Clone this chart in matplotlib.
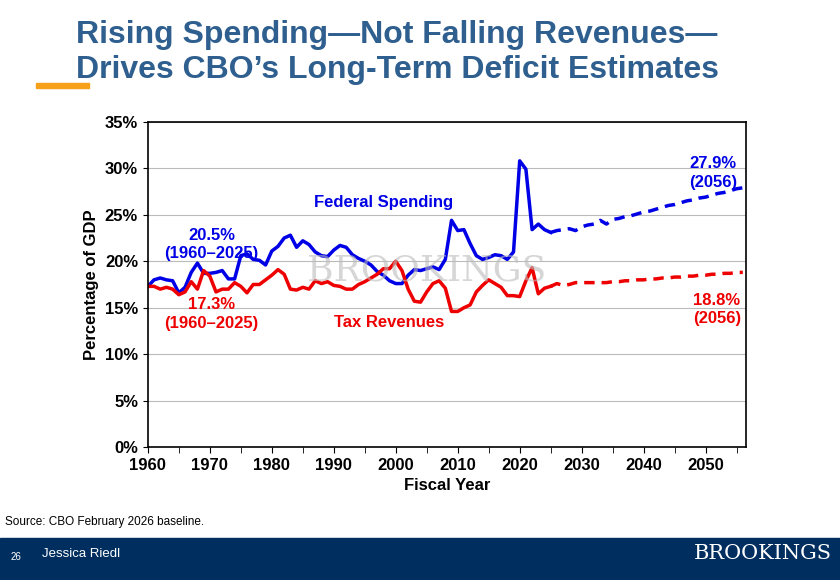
import matplotlib
matplotlib.use("Agg")
import matplotlib.pyplot as plt
from matplotlib.patches import Rectangle
import numpy as np

plt.rcParams['font.family'] = ['Liberation Sans', 'DejaVu Sans']

hist_years = list(range(1960, 2026))
spending = [17.3,18.0,18.2,18.0,17.9,16.6,17.2,18.8,19.8,18.7,18.7,18.8,19.0,18.1,18.1,20.6,20.8,20.2,20.1,19.6,
            21.1,21.6,22.5,22.8,21.5,22.2,21.8,21.0,20.6,20.5,21.2,21.7,21.5,20.7,20.3,20.0,19.6,18.9,18.5,17.9,
            17.6,17.6,18.5,19.1,19.0,19.2,19.4,19.1,20.2,24.4,23.3,23.4,21.9,20.6,20.2,20.4,20.7,20.6,20.2,21.0,
            30.8,29.9,23.4,24.0,23.4,23.1]
revenues = [17.3,17.3,17.0,17.2,17.0,16.4,16.7,17.8,17.0,19.0,18.4,16.7,17.0,17.0,17.7,17.3,16.6,17.5,17.5,18.0,
            18.5,19.1,18.6,17.0,16.9,17.2,17.0,17.9,17.6,17.8,17.4,17.3,17.0,17.0,17.5,17.8,18.2,18.6,19.2,19.2,
            20.0,19.0,17.0,15.7,15.6,16.7,17.6,17.9,17.1,14.6,14.6,15.0,15.3,16.7,17.4,18.0,17.6,17.2,16.3,16.3,
            16.2,17.9,19.3,16.5,17.1,17.3]
proj_years = list(range(2025, 2057))
proj_spending = [23.1,23.3,23.4,23.5,23.3,23.7,23.9,24.0,24.4,24.0,24.5,24.6,24.8,24.9,25.1,25.3,25.4,25.6,25.8,
                 26.0,26.1,26.3,26.5,26.6,26.8,26.9,27.1,27.3,27.4,27.6,27.8,27.9]
proj_revenues = [17.3,17.6,17.4,17.5,17.7,17.7,17.7,17.7,17.7,17.7,17.8,17.8,17.9,17.9,18.0,18.0,18.1,18.1,18.2,
                 18.2,18.3,18.3,18.4,18.4,18.5,18.5,18.6,18.6,18.7,18.7,18.8,18.8]

BLUE = "#0000E6"
RED = "#EE0000"
fig = plt.figure(figsize=(8.4, 5.8), dpi=100)
fig.patch.set_facecolor("white")

fig.text(0.09, 0.965, "Rising Spending\u2014Not Falling Revenues\u2014", fontsize=23, fontweight="bold",
         color="#2E5F8F", va="top")
fig.text(0.09, 0.905, "Drives CBO\u2019s Long-Term Deficit Estimates", fontsize=23, fontweight="bold",
         color="#2E5F8F", va="top")
fig.add_artist(Rectangle((0.043, 0.848), 0.063, 0.009, transform=fig.transFigure, color="#F7A11A"))

ax = fig.add_axes([0.176, 0.229, 0.712, 0.561])
ax.plot(hist_years, spending, color=BLUE, lw=2.5)
ax.plot(hist_years, revenues, color=RED, lw=2.5)
ax.plot(proj_years, proj_spending, color=BLUE, lw=2.5, ls=(0, (3, 2)))
ax.plot(proj_years, proj_revenues, color=RED, lw=2.5, ls=(0, (3, 2)))
ax.set_xlim(1960, 2056.5)
ax.set_ylim(0, 35)
ax.set_xticks(range(1960, 2051, 10))
ax.set_xticks(range(1960, 2057, 5), minor=True)
ax.set_yticks(range(0, 36, 5))
ax.set_yticklabels([f"{v}%" for v in range(0, 36, 5)])
ax.grid(axis="y", color="#BBBBBB", lw=0.8)
ax.set_axisbelow(True)
ax.tick_params(labelsize=12)
for lab in ax.get_xticklabels() + ax.get_yticklabels():
    lab.set_fontweight("bold")
ax.tick_params(axis="x", which="both", direction="out", length=4)
ax.set_xlabel("Fiscal Year", fontsize=12, fontweight="bold")
ax.set_ylabel("Percentage of GDP", fontsize=12, fontweight="bold")
for s in ax.spines.values():
    s.set_linewidth(1.2)

ax.text(2005, 19.0, "BROOKINGS", fontsize=26, family="DejaVu Serif", color="#BBBBBB", alpha=0.6,
        ha="center", va="center")
kw = dict(fontsize=12, fontweight="bold", ha="center")
ax.text(1998, 25.8, "Federal Spending", color=BLUE, **kw)
ax.text(1970.3, 21.8, "20.5%\n(1960\u20132025)", color=BLUE, va="center", linespacing=1.3, **kw)
ax.text(1970.3, 14.3, "17.3%\n(1960\u20132025)", color=RED, va="center", linespacing=1.3, **kw)
ax.text(1999, 12.9, "Tax Revenues", color=RED, **kw)
ax.text(2051.2, 29.5, "27.9%\n(2056)", color=BLUE, va="center", linespacing=1.3, **kw)
ax.text(2051.8, 14.8, "18.8%\n(2056)", color=RED, va="center", linespacing=1.3, **kw)

fig.text(0.006, 0.1, "Source: CBO February 2026 baseline.", fontsize=8.5, va="center")
fig.add_artist(Rectangle((0, 0), 1, 0.072, transform=fig.transFigure, color="#002F5F"))
fig.text(0.012, 0.04, "26", fontsize=7, color="white", va="center")
fig.text(0.05, 0.045, "Jessica Riedl", fontsize=9.5, color="white", va="center")
fig.text(0.99, 0.045, "BROOKINGS", fontsize=15, family="DejaVu Serif", color="white", va="center", ha="right")

fig.savefig("out.png", dpi=100)
